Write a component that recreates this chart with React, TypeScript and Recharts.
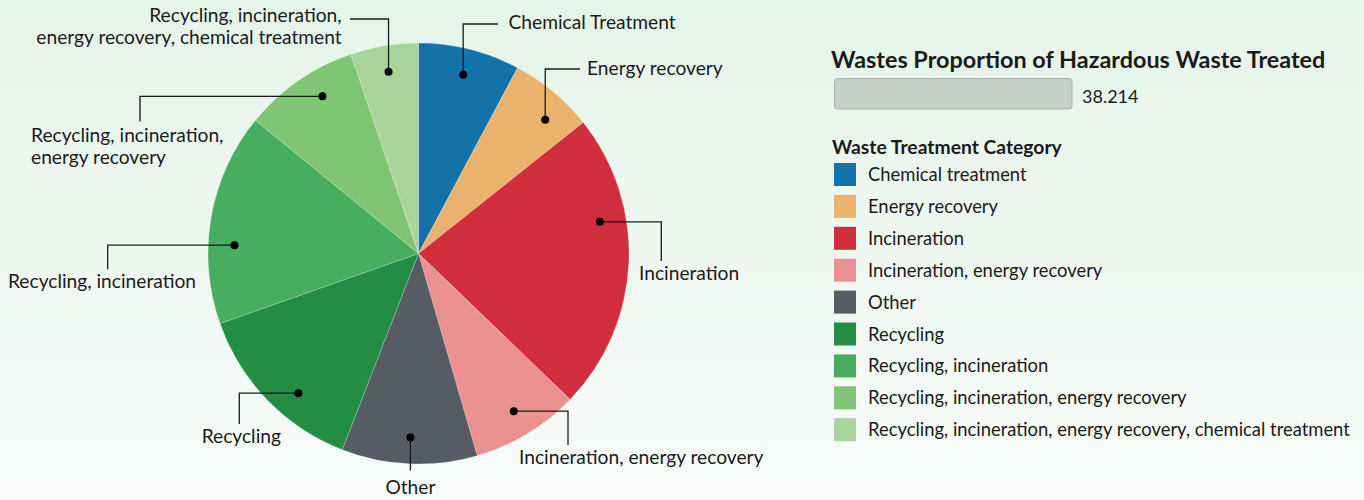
import { Cell, Legend, Pie, PieChart } from "recharts";

const categories = [
  "Chemical treatment",
  "Energy recovery",
  "Incineration",
  "Incineration, energy recovery",
  "Other",
  "Recycling",
  "Recycling, incineration",
  "Recycling, incineration, energy recovery",
  "Recycling, incineration, energy recovery, chemical treatment",
];
const sliceLabels: string[][] = [
  ["Chemical Treatment"],
  ["Energy recovery"],
  ["Incineration"],
  ["Incineration, energy recovery"],
  ["Other"],
  ["Recycling"],
  ["Recycling, incineration"],
  ["Recycling, incineration,", "energy recovery"],
  ["Recycling, incineration,", "energy recovery, chemical treatment"],
];
const shares = [7.8, 6.5, 22.9, 8.3, 10.4, 13.7, 16.3, 8.9, 5.2];
const colors = [
  "#1372a8",
  "#ebb26e",
  "#d02e3c",
  "#ec9191",
  "#565c64",
  "#238e43",
  "#47ae5f",
  "#80c575",
  "#a7d59c",
];
const sizeTitle = "Wastes Proportion of Hazardous Waste Treated";
const sizeValue = 38.214;
const legendTitle = "Waste Treatment Category";

const FONT = "Lato, 'Noto Sans', sans-serif";
const INK = "#1b1b1b";
const RAD = Math.PI / 180;

const data = categories.map((c, i) => ({ name: c, value: shares[i] }));

// leader layout per slice, offsets relative to the pie centre
type Leader = {
  kind: "vh" | "hv" | "v";
  da: number;
  ex: number;
  ey: number;
  tx: number;
  ty: number;
  anchor: "start" | "middle" | "end";
};
const leaders: Leader[] = [
  { kind: "vh", da: 0, ex: 79.5, ey: -229.5, tx: 90, ty: -224.2, anchor: "start" },
  { kind: "vh", da: 3.7, ex: 161.5, ey: -184.5, tx: 168.5, ty: -178.5, anchor: "start" },
  { kind: "hv", da: -12.6, ex: 242.8, ey: 7.5, tx: 220.5, ty: 26.5, anchor: "start" },
  { kind: "hv", da: 0, ex: 149.5, ey: 191.5, tx: 100.5, ty: 210.5, anchor: "start" },
  { kind: "v", da: 0, ex: 0, ey: 217, tx: 0, ty: 240.5, anchor: "middle" },
  { kind: "hv", da: -5.2, ex: -179.2, ey: 170.5, tx: -177.2, ty: 189.2, anchor: "middle" },
  { kind: "hv", da: -7.3, ex: -310.8, ey: 15.8, tx: -316.5, ty: 34.8, anchor: "middle" },
  { kind: "hv", da: 3.3, ex: -278.5, ey: -132, tx: -387.5, ty: -112, anchor: "start" },
  { kind: "vh", da: 0, ex: -68.5, ey: -234.5, tx: -76.8, ty: -231.8, anchor: "end" },
];

const renderLabel = (props: any) => {
  const { cx, cy, midAngle, outerRadius, index } = props;
  const l = leaders[index];
  const a = (midAngle - l.da) * RAD;
  const r = outerRadius * 0.875;
  const px = cx + r * Math.cos(a);
  const py = cy - r * Math.sin(a);
  const ex = l.kind === "v" ? px : cx + l.ex;
  const ey = cy + l.ey;
  let d = "";
  if (l.kind === "vh") d = `M${px},${py}V${ey}H${ex}`;
  else if (l.kind === "hv") d = `M${px},${py}H${ex}V${ey}`;
  else d = `M${px},${py}V${ey}`;
  const tx = l.kind === "v" ? px : cx + l.tx;
  return (
    <g key={`lbl-${index}`}>
      <path d={d} fill="none" stroke={INK} strokeWidth={1.3} />
      <circle cx={px} cy={py} r={4} fill="#000" />
      <text x={tx} y={cy + l.ty} textAnchor={l.anchor} fontFamily={FONT} fontSize={19.2} fill={INK}>
        {sliceLabels[index].map((s, k) => (
          <tspan key={k} x={tx} dy={k === 0 ? 0 : 22}>
            {s}
          </tspan>
        ))}
      </text>
    </g>
  );
};

const renderLegend = () => (
  <svg width={544} height={440}>
    <g transform="translate(-820,-30)">
      <text x={831} y={67.5} fontFamily={FONT} fontWeight={700} fontSize={23.4} fill={INK}>
        {sizeTitle}
      </text>
      <rect x={834.5} y={78.5} width={237.5} height={30.5} rx={3} fill="#c5d1c8" stroke="#a8b2ab" strokeWidth={1} />
      <text x={1082} y={102.5} fontFamily={FONT} fontSize={18} fill={INK}>
        {sizeValue}
      </text>
      <text x={832} y={154} fontFamily={FONT} fontWeight={700} fontSize={19.3} fill={INK}>
        {legendTitle}
      </text>
      {categories.map((c, i) => (
        <g key={c}>
          <rect x={834} y={163 + i * 31.9} width={22} height={23} fill={colors[i]} />
          <text x={868} y={181 + i * 31.9} fontFamily={FONT} fontSize={18.4} fill={INK}>
            {c}
          </text>
        </g>
      ))}
    </g>
  </svg>
);

export default function App() {
  return (
    <div
      style={{
        position: "absolute",
        left: 0,
        top: 0,
        width: 1364,
        height: 500,
        background: "linear-gradient(180deg, #e4f5e9 0%, #eef8f1 50%, #f8fbf9 100%)",
        overflow: "hidden",
      }}
    >
      <PieChart width={1364} height={500} margin={{ top: 0, right: 0, bottom: 0, left: 0 }}>
        <Pie
          data={data}
          dataKey="value"
          nameKey="name"
          cx={418.5}
          cy={253.5}
          outerRadius={210.5}
          startAngle={90}
          endAngle={-270}
          stroke="rgba(255,255,255,0.35)"
          strokeWidth={0.6}
          label={renderLabel}
          labelLine={false}
          isAnimationActive={false}
        >
          {data.map((d, i) => (
            <Cell key={d.name} fill={colors[i]} />
          ))}
        </Pie>
        <Legend
          content={renderLegend}
          layout="vertical"
          verticalAlign="top"
          align="right"
          wrapperStyle={{ left: 820, top: 30, width: 544 }}
        />
      </PieChart>
    </div>
  );
}
